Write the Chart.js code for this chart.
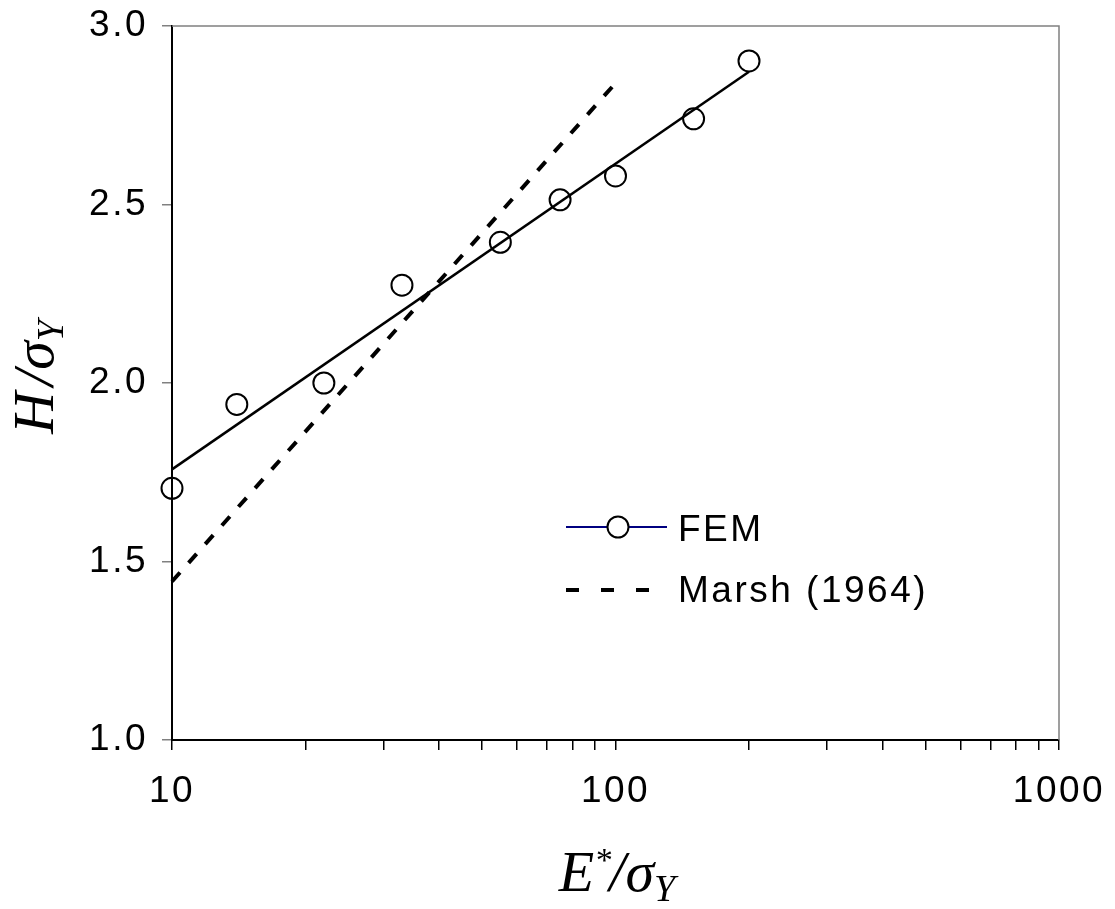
<!DOCTYPE html>
<html>
<head>
<meta charset="utf-8">
<script src="https://cdn.jsdelivr.net/npm/chart.js@4.4.1/dist/chart.umd.min.js"></script>
<style>
  html, body { margin: 0; padding: 0; background: #fff; }
  #wrap { width: 1115px; height: 909px; }
</style>
</head>
<body>
<div id="wrap"><canvas id="hardness" width="1115" height="909"></canvas></div>
<script>
// FEM results (circles)
const femX = [10, 14, 22, 33, 55, 75, 100, 150, 200];
const femY = [1.705, 1.94, 2.00, 2.274, 2.394, 2.513, 2.58, 2.74, 2.902];

// fitted line through FEM points (straight on log x)
const fitX = [10, 200];
const fitY = [1.758, 2.872];

// Marsh (1964)
const marshX = [10, 100];
const marshY = [1.444, 2.84];

// axis ticks
const xTickValues = [10, 20, 30, 40, 50, 60, 70, 80, 90, 100, 200, 300, 400, 500, 600, 700, 800, 900, 1000];
const xTickLabels = [10, 100, 1000];
const yTickValues = [1.0, 1.5, 2.0, 2.5, 3.0];

const legendNames = ['FEM', 'Marsh (1964)'];

const tickFont = { family: "'Liberation Sans', Arial, sans-serif", size: 37 };
const serif = "'Liberation Serif', 'Times New Roman', serif";

function pts(xs, ys){
    return xs.map((x, i) => ({x: x, y: ys[i]}));
}

// draws a run of text pieces (for sub/superscripts) centred on 0
function drawRich(ctx, parts){
    var total = 0;
    parts.forEach(p => {
        ctx.font = 'italic ' + p.size + 'px ' + serif;
        p.w = ctx.measureText(p.t).width;
        total += p.w + (p.gap || 0);
    });
    var x = -total / 2;
    parts.forEach(p => {
        ctx.font = 'italic ' + p.size + 'px ' + serif;
        ctx.fillText(p.t, x, p.dy || 0);
        x += p.w + (p.gap || 0);
    });
}

const extras = {
    id: 'extras',
    beforeDraw(chart){
        // the original labels are spaced out a little
        chart.ctx.letterSpacing = '2.5px';
    },
    afterDraw(chart){
        const ctx = chart.ctx;
        const a = chart.chartArea;
        ctx.save();

        // grey frame on top and right
        ctx.strokeStyle = '#808080';
        ctx.lineWidth = 1.5;
        ctx.beginPath();
        ctx.moveTo(a.left, a.top);
        ctx.lineTo(a.right, a.top);
        ctx.lineTo(a.right, a.bottom);
        ctx.stroke();

        // axis titles
        ctx.letterSpacing = '0px';
        ctx.fillStyle = '#000';
        ctx.textBaseline = 'alphabetic';
        ctx.textAlign = 'left';
        ctx.save();
        ctx.translate(53, 377);
        ctx.rotate(-Math.PI / 2);
        drawRich(ctx, [
            {t: 'H', size: 58, gap: 6},
            {t: '/', size: 58},
            {t: 'σ', size: 58},
            {t: 'Y', size: 38, dy: 10}
        ]);
        ctx.restore();

        ctx.save();
        ctx.translate(617, 891);
        drawRich(ctx, [
            {t: 'E', size: 58},
            {t: '*', size: 34, dy: -20, gap: -2},
            {t: '/', size: 58},
            {t: 'σ', size: 58},
            {t: 'Y', size: 38, dy: 10}
        ]);
        ctx.restore();

        // legend
        ctx.letterSpacing = '2.5px';
        ctx.font = '37px ' + tickFont.family;
        ctx.textBaseline = 'alphabetic';
        ctx.textAlign = 'left';

        ctx.strokeStyle = '#000080';
        ctx.lineWidth = 2;
        ctx.beginPath();
        ctx.moveTo(566, 527);
        ctx.lineTo(667, 527);
        ctx.stroke();
        ctx.fillStyle = '#fff';
        ctx.strokeStyle = '#000';
        ctx.beginPath();
        ctx.arc(618, 527, 10.5, 0, Math.PI * 2);
        ctx.fill();
        ctx.stroke();
        ctx.fillStyle = '#000';
        ctx.fillText(legendNames[0], 678, 541);

        ctx.lineWidth = 4;
        ctx.setLineDash([13, 22]);
        ctx.beginPath();
        ctx.moveTo(566, 590);
        ctx.lineTo(669, 590);
        ctx.stroke();
        ctx.setLineDash([]);
        ctx.fillText(legendNames[1], 678, 602);

        ctx.restore();
    }
};

function drawChart(){
    const cont = document.getElementById('hardness').getContext('2d');

    new Chart(cont, {
        type: 'scatter',
        data: {
            datasets: [
                {
                    label: legendNames[0],
                    data: pts(femX, femY),
                    showLine: false,
                    pointStyle: 'circle',
                    pointRadius: 10.5,
                    pointBorderWidth: 2,
                    pointBorderColor: '#000',
                    pointBackgroundColor: 'rgba(0,0,0,0)',
                    clip: false,
                    order: 0
                },
                {
                    label: 'fit',
                    data: pts(fitX, fitY),
                    showLine: true,
                    borderColor: '#000',
                    borderWidth: 2.5,
                    pointRadius: 0,
                    clip: false,
                    order: 1
                },
                {
                    label: legendNames[1],
                    data: pts(marshX, marshY),
                    showLine: true,
                    borderColor: '#000',
                    borderWidth: 4,
                    borderDash: [12, 13],
                    borderCapStyle: 'butt',
                    pointRadius: 0,
                    clip: false,
                    order: 2
                }
            ]
        },
        options: {
            responsive: false,
            animation: false,
            devicePixelRatio: 1,
            layout: { padding: { top: 26, right: 56, bottom: 0, left: 0 } },
            plugins: {
                legend: { display: false },
                tooltip: { enabled: false }
            },
            scales: {
                x: {
                    type: 'logarithmic',
                    min: 10,
                    max: 1000,
                    afterBuildTicks: s => { s.ticks = xTickValues.map(v => ({value: v})); },
                    afterFit: s => { s.height = 169; s.paddingLeft = 0; s.paddingRight = 0; },
                    ticks: {
                        autoSkip: false,
                        maxRotation: 0,
                        padding: 20,
                        color: '#000',
                        font: tickFont,
                        callback: v => xTickLabels.includes(v) ? String(v) : ''
                    },
                    grid: { drawOnChartArea: false, tickLength: 10, color: '#000', lineWidth: 1.5 },
                    border: { color: '#000', width: 2 }
                },
                y: {
                    type: 'linear',
                    min: 1,
                    max: 3,
                    afterBuildTicks: s => { s.ticks = yTickValues.map(v => ({value: v})); },
                    afterFit: s => { s.width = 172; s.paddingTop = 0; s.paddingBottom = 0; },
                    ticks: {
                        padding: 14,
                        color: '#000',
                        font: tickFont,
                        callback: v => Number(v).toFixed(1)
                    },
                    grid: { drawOnChartArea: false, tickLength: 10, color: '#808080', lineWidth: 1.5 },
                    border: { color: '#000', width: 2 }
                }
            }
        },
        plugins: [extras]
    });
}

drawChart();
</script>
</body>
</html>
